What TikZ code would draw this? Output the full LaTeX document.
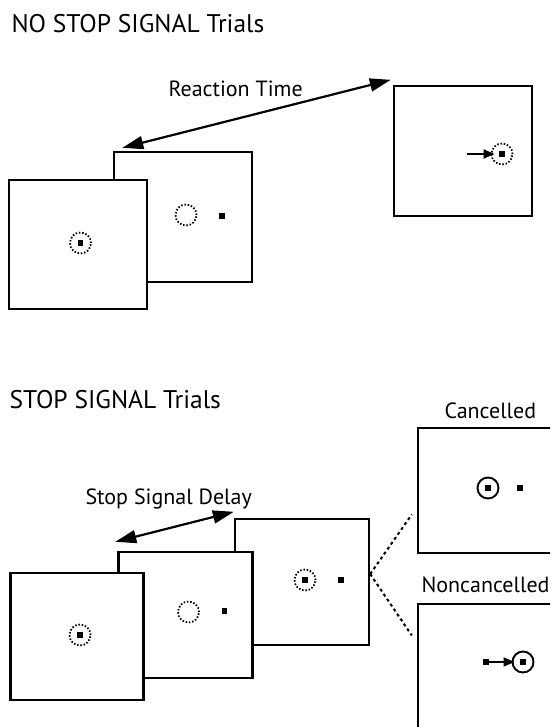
\documentclass[tikz,border=0pt]{standalone}
\usepackage{fontspec}
\setmainfont{PT Sans}
\usetikzlibrary{arrows.meta}

\begin{document}
\begin{tikzpicture}[x=1pt,y=-1pt,
    screen/.style={draw,line width=2.4pt,fill=white,inner sep=0pt,
        minimum width=138pt,minimum height=129pt},
    fixring/.style={circle,draw,line width=1.8pt,
        dash pattern=on 1.5pt off 1.8pt,inner sep=0pt,minimum size=21pt},
    holdring/.style={circle,draw,line width=1.9pt,inner sep=0pt,minimum size=21pt},
    spot/.style={fill,inner sep=0pt,minimum size=5.5pt},
    longarrow/.style={line width=2.2pt,
        {Triangle[length=21pt,width=13pt]}-{Triangle[length=21pt,width=13pt]}},
    saccade/.style={line width=1.8pt,-{Triangle[length=11pt,width=9pt]}},
    branch/.style={line width=2pt,dash pattern=on 3pt off 3pt},
    heading/.style={anchor=base west,font=\fontsize{25.5}{30}\selectfont},
    label/.style={anchor=base west,font=\fontsize{22}{26}\selectfont}]
\clip (0,0) rectangle (550,727);

% no stop signal trials
\node[heading] (title1) at (8,33) {NO STOP SIGNAL Trials};

\node[screen,minimum height=130pt] (B) at (183,217) {};
\node[fixring] (Bring) at (186,215) {};
\node[spot] (Bspot) at (222,216) {};

\node[screen] (A) at (78,244.5) {};
\node[fixring] (Aring) at (80.5,243) {};
\node[spot] (Aspot) at (80.5,243) {};

\node[screen,minimum height=130pt] (C) at (463,151) {};
\node[fixring] (Cring) at (502,154) {};
\node[spot] (Cspot) at (502,154) {};
\coordinate (Cfrom) at (467,154);
\draw[saccade] (Cfrom) -- ([xshift=4pt]Cring.west);

\draw[longarrow] ([xshift=9.5pt,yshift=3pt]B.north west) -- ([xshift=-2pt,yshift=5pt]C.north west);
\node[label] (rt) at (165,97) {Reaction Time};

% stop signal trials
\node[heading] (title2) at (6,408) {STOP SIGNAL Trials};

\node[screen,minimum width=134pt,minimum height=126pt] (D3) at (302,582) {};
\node[fixring] (D3ring) at (305,580) {};
\node[spot] (D3spot) at (305,580) {};
\node[spot] (D3tgt) at (341,580) {};

\node[screen,minimum width=134pt,minimum height=126pt] (D2) at (185.5,615) {};
\node[fixring] (D2ring) at (188.5,612) {};
\node[spot] (D2spot) at (224.5,611) {};

\node[screen,minimum width=133pt,minimum height=127pt] (D1) at (77,636.5) {};
\node[fixring] (D1ring) at (80,635) {};
\node[spot] (D1spot) at (80,635) {};

\draw[longarrow] ([xshift=-2pt,yshift=9pt]D2.north west) -- ([yshift=6pt]D3.north west);
\node[label] (ssd) at (82,504) {Stop Signal Delay};

% outcomes
\node[screen,minimum height=125pt] (canc) at (487,490.5) {};
\node[holdring] (cancring) at (488,488) {};
\node[spot] (cancspot) at (488,488) {};
\node[spot] (canctgt) at (520,488) {};
\node[label] (canclab) at (441,418) {Cancelled};

\node[screen,minimum height=131pt] (nonc) at (487,669.5) {};
\node[holdring] (noncring) at (523,662) {};
\node[spot] (noncspot) at (523,662) {};
\node[spot] (nonctgt) at (486,662) {};
\draw[saccade] (nonctgt.east) -- ([xshift=3pt]noncring.west);
\node[label] (nonclab) at (418,592) {Noncancelled};

\draw[branch] ([yshift=8pt]D3.east) -- ([xshift=-5pt,yshift=-24pt]canc.west);
\draw[branch] ([yshift=8pt]D3.east) -- ([xshift=-5pt,yshift=34pt]nonc.west);
\end{tikzpicture}
\end{document}
